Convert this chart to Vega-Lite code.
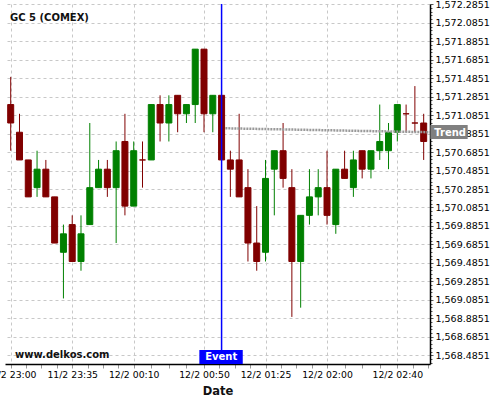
{
  "$schema": "https://vega.github.io/schema/vega-lite/v6.json",
  "autosize": "none",
  "width": 425,
  "height": 360,
  "padding": {"left": 5, "top": 4, "right": 70, "bottom": 36},
  "background": "white",
  "config": {"view": {"stroke": null}, "font": "DejaVu Sans"},
  "title": {"text": "GC 5 (COMEX)", "anchor": "start", "frame": "group", "orient": "top", "offset": -15, "dy": 17, "baseline": "alphabetic", "dx": 5, "fontSize": 10, "fontWeight": "bold", "font": "DejaVu Sans", "color": "#111111"},
  "datasets": {
    "candles": [
      {"i": 0, "o": 1571.2, "h": 1571.5, "l": 1570.7, "c": 1571.0},
      {"i": 1, "o": 1570.9, "h": 1571.1, "l": 1570.6, "c": 1570.6},
      {"i": 2, "o": 1570.6, "h": 1570.6, "l": 1570.2, "c": 1570.2},
      {"i": 3, "o": 1570.3, "h": 1570.7, "l": 1570.2, "c": 1570.5},
      {"i": 4, "o": 1570.5, "h": 1570.6, "l": 1570.2, "c": 1570.2},
      {"i": 5, "o": 1570.2, "h": 1570.2, "l": 1569.7, "c": 1569.7},
      {"i": 6, "o": 1569.6, "h": 1569.9, "l": 1569.1, "c": 1569.8},
      {"i": 7, "o": 1569.9, "h": 1570.0, "l": 1569.5, "c": 1569.5},
      {"i": 8, "o": 1569.5, "h": 1570.0, "l": 1569.4, "c": 1569.8},
      {"i": 9, "o": 1569.9, "h": 1571.0, "l": 1569.9, "c": 1570.3},
      {"i": 10, "o": 1570.3, "h": 1570.6, "l": 1570.3, "c": 1570.5},
      {"i": 11, "o": 1570.5, "h": 1570.6, "l": 1570.2, "c": 1570.3},
      {"i": 12, "o": 1570.3, "h": 1570.8, "l": 1569.7, "c": 1570.7},
      {"i": 13, "o": 1570.8, "h": 1571.1, "l": 1570.0, "c": 1570.1},
      {"i": 14, "o": 1570.1, "h": 1570.8, "l": 1570.1, "c": 1570.7},
      {"i": 15, "o": 1570.6, "h": 1570.8, "l": 1570.3, "c": 1570.6},
      {"i": 16, "o": 1570.6, "h": 1571.2, "l": 1570.6, "c": 1571.2},
      {"i": 17, "o": 1571.2, "h": 1571.3, "l": 1570.8, "c": 1571.0},
      {"i": 18, "o": 1571.0, "h": 1571.3, "l": 1570.8, "c": 1571.2},
      {"i": 19, "o": 1571.3, "h": 1571.3, "l": 1570.9, "c": 1571.1},
      {"i": 20, "o": 1571.1, "h": 1571.2, "l": 1571.0, "c": 1571.2},
      {"i": 21, "o": 1571.2, "h": 1571.8, "l": 1571.0, "c": 1571.8},
      {"i": 22, "o": 1571.8, "h": 1571.8, "l": 1570.9, "c": 1571.1},
      {"i": 23, "o": 1571.1, "h": 1571.3, "l": 1570.9, "c": 1571.3},
      {"i": 24, "o": 1571.3, "h": 1571.3, "l": 1570.6, "c": 1570.6},
      {"i": 25, "o": 1570.6, "h": 1570.7, "l": 1570.2, "c": 1570.5},
      {"i": 26, "o": 1570.6, "h": 1571.1, "l": 1570.2, "c": 1570.2},
      {"i": 27, "o": 1570.3, "h": 1570.5, "l": 1569.5, "c": 1569.7},
      {"i": 28, "o": 1569.7, "h": 1570.1, "l": 1569.4, "c": 1569.5},
      {"i": 29, "o": 1569.6, "h": 1570.6, "l": 1569.5, "c": 1570.4},
      {"i": 30, "o": 1570.5, "h": 1570.7, "l": 1570.0, "c": 1570.7},
      {"i": 31, "o": 1570.7, "h": 1571.0, "l": 1570.3, "c": 1570.4},
      {"i": 32, "o": 1570.3, "h": 1570.5, "l": 1568.9, "c": 1569.5},
      {"i": 33, "o": 1569.5, "h": 1570.0, "l": 1569.0, "c": 1570.0},
      {"i": 34, "o": 1570.0, "h": 1570.5, "l": 1569.9, "c": 1570.2},
      {"i": 35, "o": 1570.2, "h": 1570.5, "l": 1570.0, "c": 1570.3},
      {"i": 36, "o": 1570.3, "h": 1570.7, "l": 1569.9, "c": 1570.0},
      {"i": 37, "o": 1569.9, "h": 1570.5, "l": 1569.8, "c": 1570.5},
      {"i": 38, "o": 1570.5, "h": 1570.7, "l": 1570.4, "c": 1570.4},
      {"i": 39, "o": 1570.3, "h": 1570.7, "l": 1570.2, "c": 1570.6},
      {"i": 40, "o": 1570.7, "h": 1570.7, "l": 1570.4, "c": 1570.5},
      {"i": 41, "o": 1570.5, "h": 1570.7, "l": 1570.4, "c": 1570.7},
      {"i": 42, "o": 1570.7, "h": 1571.2, "l": 1570.6, "c": 1570.8},
      {"i": 43, "o": 1570.7, "h": 1571.0, "l": 1570.5, "c": 1570.9},
      {"i": 44, "o": 1570.9, "h": 1571.2, "l": 1570.8, "c": 1571.2},
      {"i": 45, "o": 1571.1, "h": 1571.2, "l": 1570.9, "c": 1571.1},
      {"i": 46, "o": 1571.0, "h": 1571.4, "l": 1570.9, "c": 1571.0},
      {"i": 47, "o": 1571.0, "h": 1571.1, "l": 1570.6, "c": 1570.8}
    ],
    "trend": [
      {"i": 24.43, "v": 1570.943},
      {"i": 47.72, "v": 1570.9}
    ],
    "event": [
      {"i": 24, "label": "Event"}
    ],
    "one": [
      {"name": "annotation"}
    ]
  },
  "layer": [
    {
      "data": {"name": "candles"},
      "mark": {"type": "rule", "strokeWidth": 1},
      "encoding": {
        "x": {
          "field": "i", "type": "quantitative",
          "scale": {"domain": [-0.649, 47.72], "nice": false, "zero": false, "padding": 0},
          "axis": {
            "title": "Date", "titleFontSize": 11.5, "titleFontWeight": "bold", "titleFont": "DejaVu Sans", "titleColor": "#111111", "titlePadding": 6,
            "values": [0, 1.75, 3.5, 5.25, 7, 8.75, 10.5, 12.25, 14, 16, 18, 20, 22, 23.75, 25.5, 27.25, 29, 30.75, 32.5, 34.25, 36, 38, 40, 42, 44, 45.75, 47.5],
            "tickCount": 1000,
            "labelExpr": "datum.value == 0 ? '12/2 23:00' : datum.value == 7 ? '11/2 23:35' : datum.value == 14 ? '12/2 00:10' : datum.value == 22 ? '12/2 00:50' : datum.value == 29 ? '12/2 01:25' : datum.value == 36 ? '12/2 02:00' : datum.value == 44 ? '12/2 02:40' : ''",
            "labelOverlap": false, "labelFlush": false, "labelBound": false,
            "labelFontSize": 9.3, "labelFont": "DejaVu Sans", "labelColor": "#000000", "labelPadding": 2,
            "tickSize": 4, "tickColor": "#999999",
            "domainColor": "#000000", "domainWidth": 1.5,
            "grid": true, "gridColor": "#c8c8c8", "gridDash": [3, 3],
            "gridOpacity": {"condition": {"test": "indexof([0,7,14,22,29,36,44], datum.value) >= 0", "value": 1}, "value": 0}
          }
        },
        "y": {
          "field": "l", "type": "quantitative",
          "scale": {"domain": [1568.39, 1572.289], "nice": false, "zero": false, "padding": 0},
          "axis": {
            "orient": "right", "title": null,
            "values": [1568.4051, 1568.4451, 1568.4851, 1568.5251, 1568.5651, 1568.6051, 1568.6451, 1568.6851, 1568.7251, 1568.7651, 1568.8051, 1568.8451, 1568.8851, 1568.9251, 1568.9651,
              1569.0051, 1569.0451, 1569.0851, 1569.1251, 1569.1651, 1569.2051, 1569.2451, 1569.2851, 1569.3251, 1569.3651, 1569.4051, 1569.4451, 1569.4851, 1569.5251, 1569.5651, 1569.6051, 1569.6451, 1569.6851, 1569.7251, 1569.7651, 1569.8051, 1569.8451, 1569.8851, 1569.9251, 1569.9651,
              1570.0051, 1570.0451, 1570.0851, 1570.1251, 1570.1651, 1570.2051, 1570.2451, 1570.2851, 1570.3251, 1570.3651, 1570.4051, 1570.4451, 1570.4851, 1570.5251, 1570.5651, 1570.6051, 1570.6451, 1570.6851, 1570.7251, 1570.7651, 1570.8051, 1570.8451, 1570.8851, 1570.9251, 1570.9651,
              1571.0051, 1571.0451, 1571.0851, 1571.1251, 1571.1651, 1571.2051, 1571.2451, 1571.2851, 1571.3251, 1571.3651, 1571.4051, 1571.4451, 1571.4851, 1571.5251, 1571.5651, 1571.6051, 1571.6451, 1571.6851, 1571.7251, 1571.7651, 1571.8051, 1571.8451, 1571.8851, 1571.9251, 1571.9651,
              1572.0051, 1572.0451, 1572.0851, 1572.1251, 1572.1651, 1572.2051, 1572.2451, 1572.2851],
            "tickCount": 1000,
            "labelExpr": "abs((datum.value - 1568.4851) / 0.2 - round((datum.value - 1568.4851) / 0.2)) < 0.05 ? format(datum.value, ',.4f') : ''",
            "labelOverlap": false, "labelFlush": false, "labelBound": false,
            "labelFontSize": 9.5, "labelFont": "DejaVu Sans", "labelColor": "#000000", "labelPadding": 2,
            "tickColor": "#555555",
            "tickSize": {"condition": {"test": "abs((datum.value - 1568.4851) / 0.2 - round((datum.value - 1568.4851) / 0.2)) < 0.05", "value": 3}, "value": 2},
            "domainColor": "#000000", "domainWidth": 1.5,
            "grid": true, "gridColor": "#c8c8c8", "gridDash": [3, 3],
            "gridOpacity": {"condition": {"test": "abs((datum.value - 1568.4851) / 0.2 - round((datum.value - 1568.4851) / 0.2)) < 0.05", "value": 1}, "value": 0}
          }
        },
        "y2": {"field": "h"},
        "color": {"condition": {"test": "datum.c > datum.o", "value": "#008000"}, "value": "#800000"}
      }
    },
    {
      "data": {"name": "candles"},
      "mark": {"type": "bar", "width": 6, "strokeWidth": 1},
      "encoding": {
        "x": {"field": "i", "type": "quantitative"},
        "y": {"field": "o", "type": "quantitative"},
        "y2": {"field": "c"},
        "color": {"condition": {"test": "datum.c > datum.o", "value": "#008000"}, "value": "#800000"},
        "stroke": {"condition": {"test": "datum.c > datum.o", "value": "#008000"}, "value": "#800000"}
      }
    },
    {
      "data": {"name": "trend"},
      "mark": {"type": "line", "color": "#999999", "strokeWidth": 2.5, "strokeDash": [2, 1]},
      "encoding": {
        "x": {"field": "i", "type": "quantitative"},
        "y": {"field": "v", "type": "quantitative"}
      }
    },
    {
      "data": {"name": "event"},
      "mark": {"type": "rule", "color": "#0000ff", "strokeWidth": 1.5},
      "encoding": {
        "x": {"field": "i", "type": "quantitative"}
      }
    },
    {
      "data": {"name": "one"},
      "mark": {"type": "rect", "color": "#0000ff"},
      "encoding": {
        "x": {"datum": 21.47, "type": "quantitative"},
        "x2": {"datum": 26.41},
        "y": {"datum": 1568.542, "type": "quantitative"},
        "y2": {"datum": 1568.39}
      }
    },
    {
      "data": {"name": "one"},
      "mark": {"type": "text", "text": "Event", "color": "#ffffff", "font": "DejaVu Sans", "fontSize": 10, "fontWeight": "bold", "align": "center", "baseline": "alphabetic"},
      "encoding": {
        "x": {"datum": 23.95, "type": "quantitative"},
        "y": {"datum": 1568.428, "type": "quantitative"}
      }
    },
    {
      "data": {"name": "one"},
      "mark": {"type": "rect", "color": "#808080"},
      "encoding": {
        "x": {"datum": 47.76, "type": "quantitative"},
        "x2": {"datum": 52.01},
        "y": {"datum": 1570.978, "type": "quantitative"},
        "y2": {"datum": 1570.827}
      }
    },
    {
      "data": {"name": "one"},
      "mark": {"type": "text", "text": "Trend", "color": "#ffffff", "font": "DejaVu Sans", "fontSize": 10, "fontWeight": "bold", "align": "left", "baseline": "alphabetic"},
      "encoding": {
        "x": {"datum": 48.21, "type": "quantitative"},
        "y": {"datum": 1570.859, "type": "quantitative"}
      }
    },
    {
      "data": {"name": "one"},
      "mark": {"type": "text", "text": "www.delkos.com", "color": "#111111", "font": "DejaVu Sans", "fontSize": 10, "fontWeight": "bold", "align": "left", "baseline": "alphabetic"},
      "encoding": {
        "x": {"datum": 0.49, "type": "quantitative"},
        "y": {"datum": 1568.455, "type": "quantitative"}
      }
    }
  ]
}
